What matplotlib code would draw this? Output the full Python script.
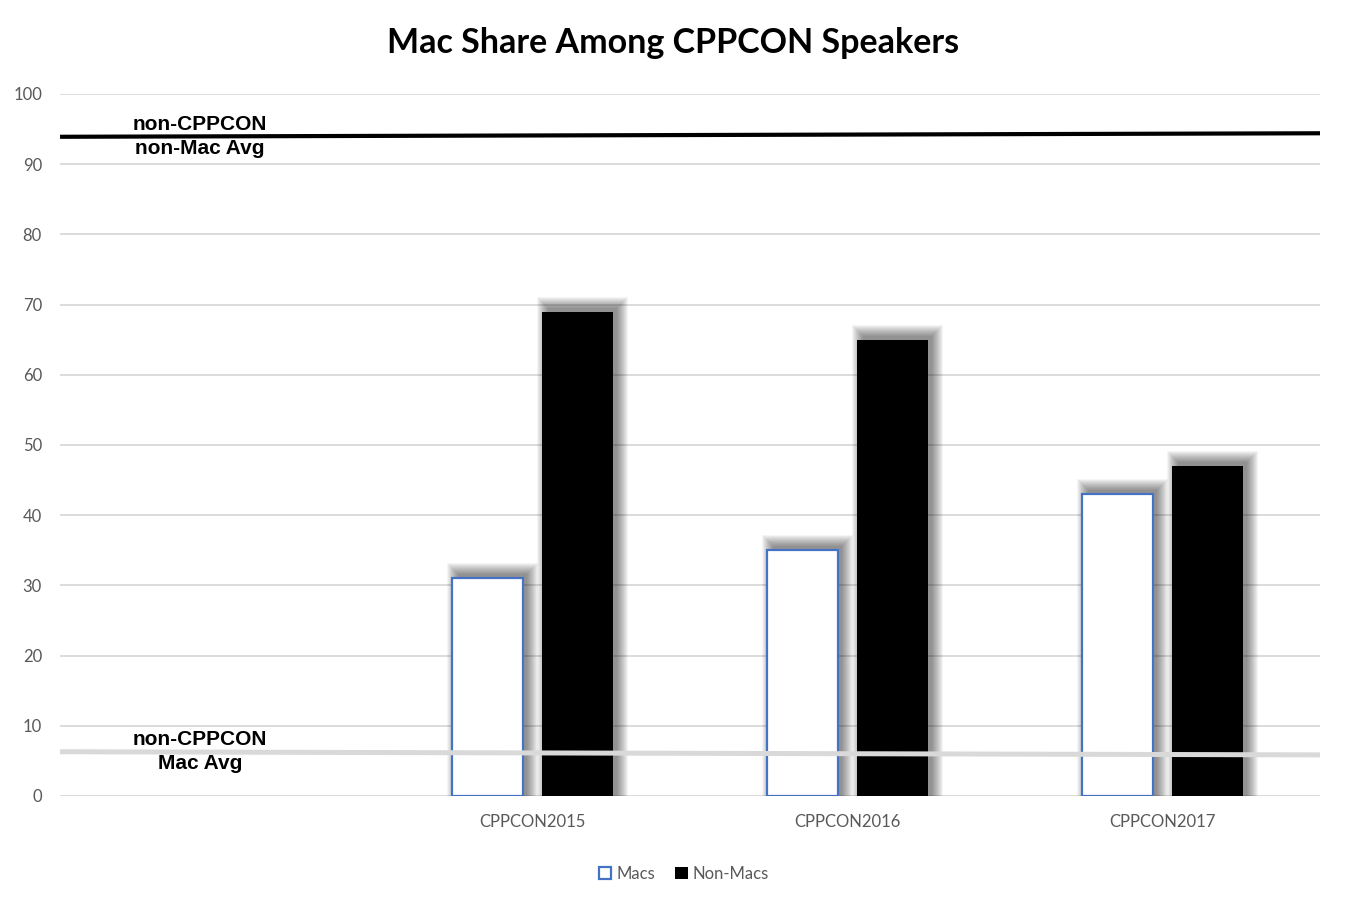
import numpy as np
import matplotlib
matplotlib.use('Agg')
import matplotlib.pyplot as plt
from matplotlib.patches import Rectangle

# Data
categories = ['', 'CPPCON2015', 'CPPCON2016', 'CPPCON2017']
macs = [np.nan, 31, 35, 43]
non_macs = [np.nan, 69, 65, 47]
non_mac_avg = [93.9, 94.4]   # left end, right end
mac_avg = [6.3, 5.85]
y_ticks = list(range(0, 101, 10))

tick_grey = '#595959'
grid_grey = '#d9d9d9'
mac_blue = '#4472c4'

fig = plt.figure(figsize=(13.46, 9), dpi=100)
ax = fig.add_axes([0.0446, 0.1156, 0.9364, 0.78])

x = np.arange(len(categories))
bar_w = 0.225
off = 0.143
xlim = (-0.5, len(categories) - 0.5)
ax.set_xlim(*xlim)
ax.set_ylim(0, 100)

# pixel -> data helpers for the soft shadow
px_x = (xlim[1] - xlim[0]) / (0.9364 * 1346)
px_y = 100 / (0.78 * 900)


def shadow(xc, h):
    if np.isnan(h):
        return
    dx, dy = 5 * px_x, 5 * px_y
    for k in range(12):
        g = 10 - k
        ax.add_patch(Rectangle((xc - bar_w / 2 + dx - g * px_x, 0),
                               bar_w + 2 * g * px_x, h + dy + g * px_y,
                               facecolor='black', edgecolor='none',
                               alpha=0.042, zorder=1.5))


for xi, m, n in zip(x, macs, non_macs):
    shadow(xi - off, m)
    shadow(xi + off, n)

ax.bar(x - off, macs, bar_w, color='white', edgecolor=mac_blue,
       linewidth=1.6, zorder=2, label='Macs')
ax.bar(x + off, non_macs, bar_w, color='black', edgecolor='black',
       linewidth=0, zorder=2, label='Non-Macs')

# average lines across the whole plot
ax.plot(list(xlim), non_mac_avg, color='black', linewidth=3.0,
        solid_capstyle='butt', zorder=4)
ax.plot(list(xlim), mac_avg, color=grid_grey, linewidth=3.6,
        solid_capstyle='butt', zorder=4)

lab_x = -0.056
lab_font = dict(family='Liberation Sans', fontweight='bold', fontsize=15,
                ha='center', va='center', color='black', zorder=5)
ax.text(lab_x, 95.6, 'non-CPPCON', **lab_font)
ax.text(lab_x, 92.2, 'non-Mac Avg', **lab_font)
ax.text(lab_x, 8.0, 'non-CPPCON', **lab_font)
ax.text(lab_x, 4.6, 'Mac Avg', **lab_font)

# axes styling
ax.set_yticks(y_ticks)
ax.yaxis.grid(True, color=grid_grey, linewidth=1.3, zorder=0)
ax.set_axisbelow(True)
for s in ax.spines.values():
    s.set_visible(False)
ax.tick_params(axis='both', length=0, labelsize=12, labelcolor=tick_grey)
ax.tick_params(axis='y', pad=13)
ax.tick_params(axis='x', pad=13)
ax.set_xticks(x)
ax.set_xticklabels(categories)
for t in ax.get_xticklabels() + ax.get_yticklabels():
    t.set_family('Lato')

fig.suptitle('Mac Share Among CPPCON Speakers', x=0.5, y=0.97,
             fontsize=24.5, fontweight='bold', family='Lato')

leg = fig.legend(loc='center', bbox_to_anchor=(0.508, 0.029), ncol=2,
                 frameon=False, fontsize=12, handlelength=0.75,
                 handleheight=0.75, columnspacing=1.2, handletextpad=0.3)
for t in leg.get_texts():
    t.set_color(tick_grey)
    t.set_family('Lato')

fig.savefig('out.png', dpi=100)
